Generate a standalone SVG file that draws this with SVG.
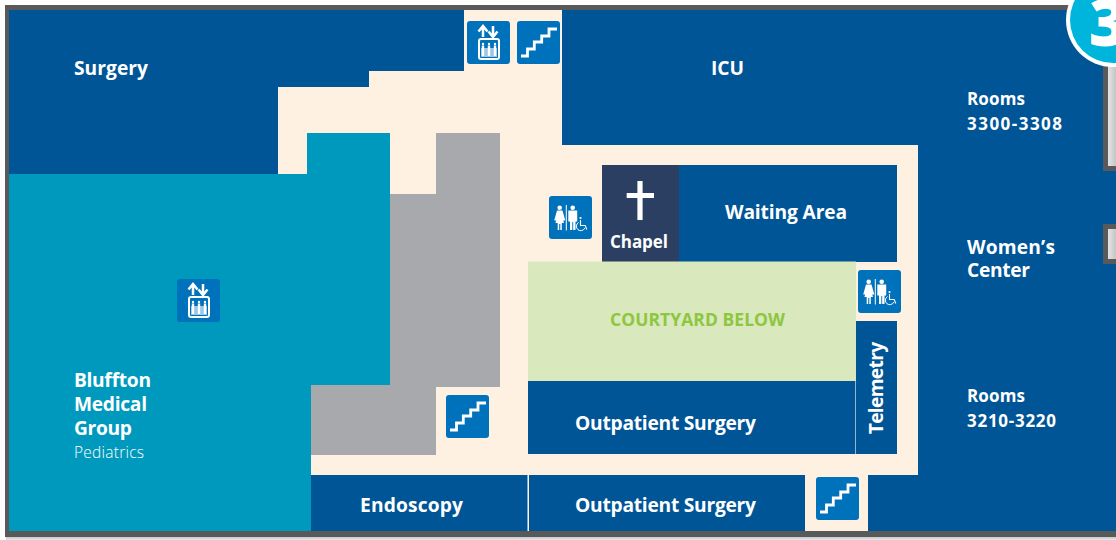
<svg xmlns="http://www.w3.org/2000/svg" width="1116" height="540" viewBox="0 0 1116 540">
<defs>
<linearGradient id="sh" x1="0" y1="0" x2="0" y2="1"><stop offset="0" stop-color="#bcbdbe"/><stop offset="1" stop-color="#e8e8e8"/></linearGradient>
<linearGradient id="wing" x1="0" y1="0" x2="1" y2="0"><stop offset="0" stop-color="#e4e4e5"/><stop offset="1" stop-color="#c4c5c6"/></linearGradient>
<symbol id="stairs" viewBox="0 0 44 44" overflow="visible">
<rect width="43" height="43" rx="3" fill="#0072bc"/>
<path d="M4 35H10.500V28H17.300V21H24.700V15H32V8H40" fill="none" stroke="#fff" stroke-width="2.800"/>
</symbol>
<symbol id="elev" viewBox="0 0 44 44" overflow="visible">
<rect width="43" height="43" rx="3" fill="#0072bc"/>
<path d="M16 16V6M11.500 10.500L16 5L20.500 10.500M26 5V15M21.500 10.500L26 16L30.500 10.500" fill="none" stroke="#fff" stroke-width="2.500"/>
<rect x="12" y="18" width="20" height="20" rx="2" fill="#0072bc" stroke="#fff" stroke-width="2"/>
<path d="M14 27H30V36H14Z" fill="#9cc7e6"/>
<path d="M16 24.500V35M22 24.500V35M28 24.500V35" stroke="#fff" stroke-width="2.400"/>
<circle cx="16" cy="23" r="1.200" fill="#fff"/><circle cx="22" cy="23" r="1.200" fill="#fff"/><circle cx="28" cy="23" r="1.200" fill="#fff"/>
</symbol>
<symbol id="wc" viewBox="0 0 44 44" overflow="visible">
<rect width="43" height="43" rx="3" fill="#0072bc"/>
<circle cx="10.700" cy="11.700" r="2.300" fill="#fff"/>
<path d="M8 14.500H13.500L16.300 24.500H14.300L15 27H12.800V34H11.300V28H10.200V34H8.700V27H6.400L7.200 24.500H5.200Z" fill="#fff"/>
<rect x="16.800" y="9" width="1" height="25.500" fill="#fff"/>
<circle cx="23.700" cy="11.700" r="2.300" fill="#fff"/>
<path d="M19.300 14.500H28.200V25.500H26.500V34H24.200V26H23.300V34H21V25.500H19.300Z" fill="#fff"/>
<circle cx="31.500" cy="22" r="1.100" fill="#fff"/>
<path d="M31.500 24V29.500H36.200L37.800 33.500" fill="none" stroke="#fff" stroke-width="1.100"/>
<path d="M29.500 26.500A4.400 4.400 0 1 0 35.800 32" fill="none" stroke="#fff" stroke-width="1"/>
</symbol>
</defs>
<style>
.navy{fill:#005596}
.t{font-family:"Open Sans","Noto Sans",sans-serif;font-weight:700;font-size:19.200px;fill:#fff}
.s{font-size:17px}
</style>
<rect width="1116" height="540" fill="#fff"/>
<rect x="6" y="536" width="1110" height="4" fill="url(#sh)"/>
<path d="M5 5H1116V537H5Z" fill="#58595b"/>
<rect x="9" y="10" width="1107" height="521" fill="#fef1e2"/>
<g id="wing-top"><rect x="1103" y="40" width="13" height="131" fill="#58595b"/><rect x="1108" y="40" width="8" height="126" fill="url(#wing)"/></g>
<g id="wing-mid"><rect x="1103" y="224" width="13" height="40" fill="#58595b"/><rect x="1108" y="229" width="8" height="30" fill="url(#wing)"/></g>
<g id="surgery"><path class="navy" d="M9 10H464V71H369V87H278V174H9Z"/><text class="t" x="74" y="75" textLength="74">Surgery</text></g>
<g id="icu"><path class="navy" d="M562 10H1116V40H1103V171H1116V224H1103V264H1116V531H868V475H918V145H562Z"/><text class="t" x="711" y="75" textLength="33">ICU</text></g>
<g id="rooms-3300"><text class="t s" x="967" y="105" textLength="58">Rooms</text><text class="t s" x="967" y="130" textLength="95">3300-3308</text></g>
<g id="womens"><text class="t" x="967" y="254" textLength="88">Women’s</text><text class="t" x="967" y="277" textLength="63">Center</text></g>
<g id="rooms-3210"><text class="t s" x="967" y="402" textLength="58">Rooms</text><text class="t s" x="967" y="427" textLength="89">3210-3220</text></g>
<g id="bluffton"><path d="M9 174H307V133H390V385H311V531H9Z" fill="#0099be"/><text class="t" x="74" y="386.500" textLength="77">Bluffton</text><text class="t" x="74" y="410.500" textLength="73">Medical</text><text class="t" x="74" y="434.500" textLength="58">Group</text><text x="74" y="458" font-family="Open Sans" font-weight="300" font-size="15.500" fill="#fff" textLength="70">Pediatrics</text></g>
<g id="gray"><path d="M390 194H436V133H500V387H436V455H311V385H390Z" fill="#a7a9ac"/></g>
<g id="waiting"><rect class="navy" x="679" y="165" width="218" height="97"/><text class="t" x="725" y="219" textLength="122">Waiting Area</text></g>
<g id="chapel"><rect x="602" y="165" width="77" height="97" fill="#2b3f63"/><path d="M640 181V220M626.700 195.500H654" stroke="#fff" stroke-width="5.200"/><text class="t s" x="610" y="247.500" textLength="58">Chapel</text></g>
<g id="courtyard"><rect x="528" y="261.500" width="328" height="119.500" fill="#dae8bd"/><text x="610" y="326" font-family="Open Sans" font-weight="700" font-size="17.500" fill="#8dc63f" textLength="175">COURTYARD BELOW</text></g>
<g id="outpatient-1"><rect class="navy" x="528" y="381" width="328" height="73"/><rect x="855" y="381" width="1" height="73" fill="#8fb6d4"/><text class="t" x="575" y="430" textLength="181">Outpatient Surgery</text></g>
<g id="telemetry"><rect class="navy" x="856" y="321" width="41" height="133"/><text class="t" transform="translate(882.500 434.300) rotate(-90)" textLength="92.500">Telemetry</text></g>
<g id="endoscopy"><rect class="navy" x="311" y="475" width="217" height="56"/><rect x="527" y="475" width="1" height="56" fill="#7fa9c9"/><text class="t" x="360" y="512" textLength="103">Endoscopy</text></g>
<g id="outpatient-2"><rect class="navy" x="529" y="475" width="276" height="56"/><text class="t" x="575" y="512" textLength="181">Outpatient Surgery</text></g>
<g id="icon-elev-1"><use href="#elev" x="467" y="21" width="44" height="44"/></g>
<g id="icon-stairs-1"><use href="#stairs" x="517" y="21" width="44" height="44"/></g>
<g id="icon-elev-2"><use href="#elev" x="177" y="279" width="44" height="44"/></g>
<g id="icon-wc-1"><use href="#wc" x="549" y="196" width="44" height="44"/></g>
<g id="icon-wc-2"><use href="#wc" x="858" y="270" width="44" height="44"/></g>
<g id="icon-stairs-2"><use href="#stairs" x="446" y="395" width="44" height="44"/></g>
<g id="icon-stairs-3"><use href="#stairs" x="816" y="477" width="44" height="44"/></g>
<g id="badge"><circle cx="1113" cy="20" r="47" fill="#fff"/><circle cx="1113" cy="20" r="43" fill="#00b5dc"/><text x="1089" y="46" font-family="Open Sans" font-weight="800" font-size="66" fill="#fff">3</text></g>
</svg>
